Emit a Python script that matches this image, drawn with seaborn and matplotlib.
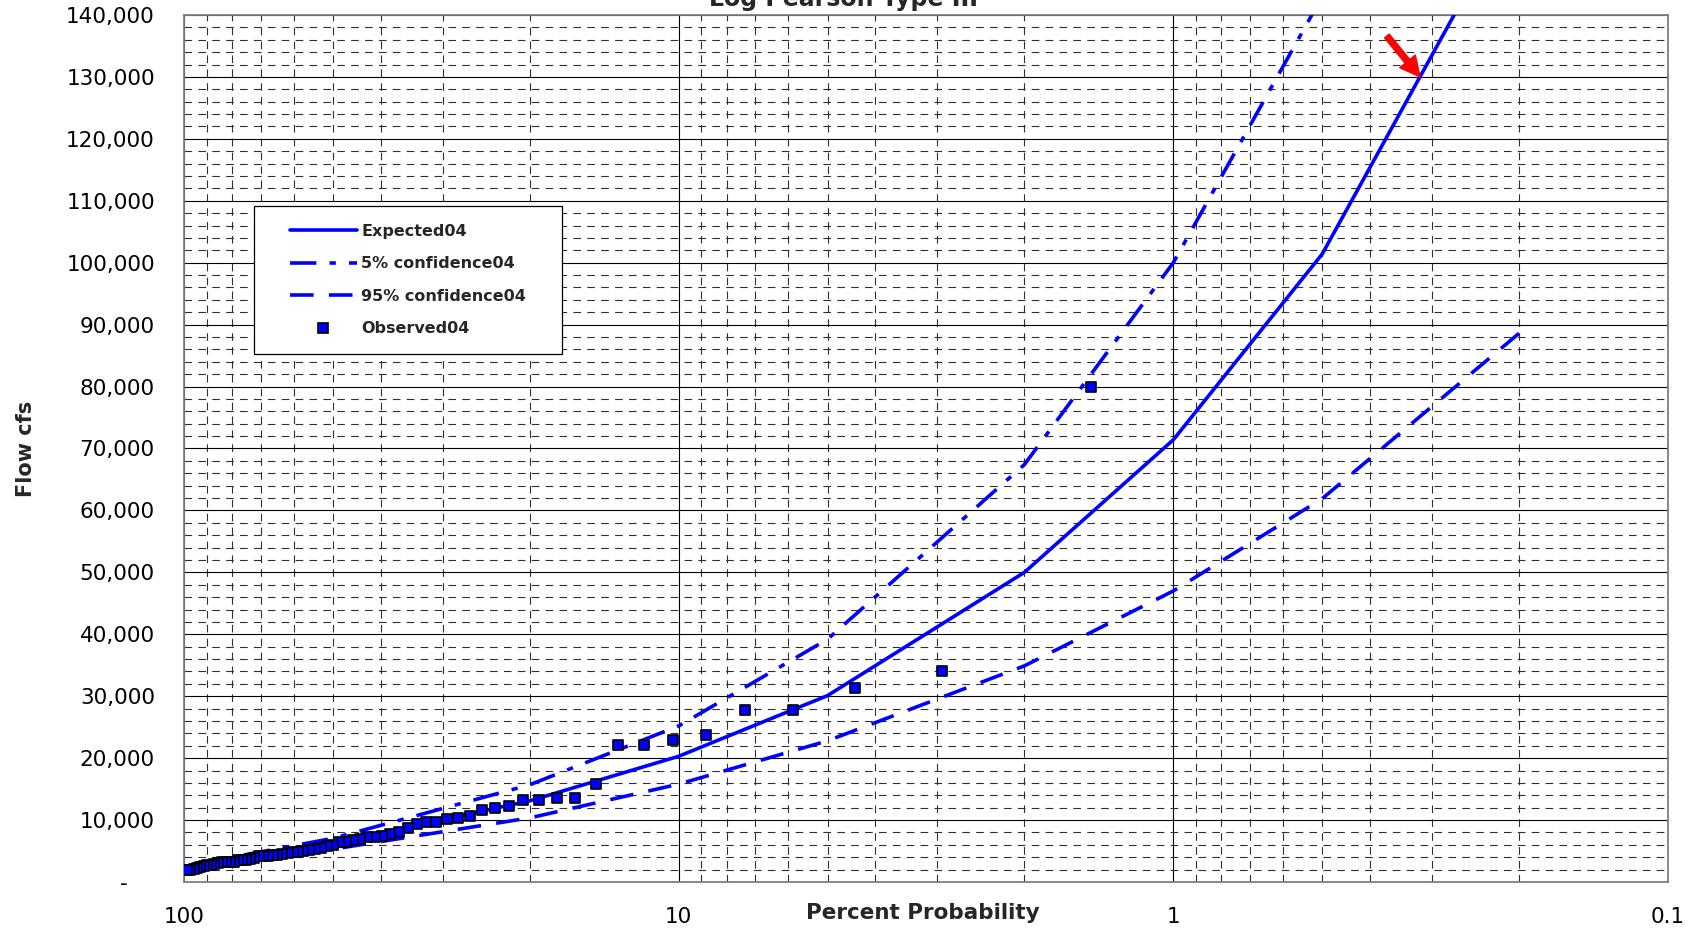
import seaborn as sns
import matplotlib.pyplot as plt
import matplotlib.ticker as mticker
from matplotlib.lines import Line2D
from matplotlib.patches import Rectangle

# frequency curve ordinates, percent chance of exceedance
curve_prob = [99, 95, 90, 80, 50, 20, 10, 5, 2, 1, 0.5, 0.2]
expected = [1700, 2250, 2650, 3400, 6300, 13100, 20300, 30100, 50000, 71400, 101400, 159000]
conf95 = [1350, 1900, 2250, 2900, 5300, 10350, 15800, 22800, 34900, 47000, 61900, 88600]
conf05_prob = [99, 95, 90, 80, 50, 20, 10, 5, 2, 1, 0.5]
conf05 = [2100, 2600, 3000, 4000, 7050, 15700, 25200, 39200, 67400, 100000, 143000]

# observed annual peaks (plotting position, flow)
obs_prob = [1.47, 2.94, 4.41, 5.88, 7.35, 8.82, 10.29, 11.76, 13.24, 14.71,
            16.18, 17.65, 19.12, 20.59, 22.06, 23.53, 25.00, 26.47, 27.94, 29.41,
            30.88, 32.35, 33.82, 35.29, 36.76, 38.24, 39.71, 41.18, 42.65, 44.12,
            45.59, 47.06, 48.53, 50.00, 51.47, 52.94, 54.41, 55.88, 57.35, 58.82,
            60.29, 61.76, 63.24, 64.71, 66.18, 67.65, 69.12, 70.59, 72.06, 73.53,
            75.00, 76.47, 77.94, 79.41, 80.88, 82.35, 83.82, 85.29, 86.76, 88.24,
            89.71, 91.18, 92.65, 94.12, 95.59, 97.06, 98.53]
obs_flow = [80000, 34100, 31300, 27800, 27800, 23800, 23000, 22200, 22200, 15800,
            13500, 13500, 13200, 13200, 12300, 12000, 11700, 10700, 10400, 10200,
            9700, 9700, 9400, 8700, 8100, 7700, 7400, 7300, 7200, 6900,
            6800, 6500, 6400, 6000, 5800, 5500, 5400, 5200, 5000, 4900,
            4800, 4700, 4600, 4400, 4300, 4200, 4200, 4200, 3800, 3700,
            3600, 3550, 3500, 3300, 3300, 3250, 3200, 3100, 2900, 2800,
            2700, 2550, 2400, 2200, 2100, 2000, 1900]

labels = ['Expected04', '5% confidence04', '95% confidence04', 'Observed04']

BLUE = '#0000FF'
LW = 2.6
DASHDOT = (0, (19, 9.5, 4.5, 9.5))
DASHED = (0, (17, 11))

sns.set_style("white")
plt.rcParams['font.family'] = 'DejaVu Sans'
plt.rcParams['lines.scale_dashes'] = False

fig = plt.figure(figsize=(17.02, 9.30), dpi=100)
ax = fig.add_axes([0.1081, 0.0516, 0.8719, 0.9323])
ax.set_xscale('log')

sns.lineplot(x=curve_prob, y=expected, ax=ax, color=BLUE, lw=LW, zorder=3)
sns.lineplot(x=conf05_prob, y=conf05, ax=ax, color=BLUE, lw=LW, linestyle=DASHDOT, zorder=3)
sns.lineplot(x=curve_prob, y=conf95, ax=ax, color=BLUE, lw=LW, linestyle=DASHED, zorder=3)
sns.scatterplot(x=obs_prob, y=obs_flow, ax=ax, marker='s', s=60, color=BLUE,
                edgecolor='black', linewidth=1.2, zorder=4)

ax.set_xlim(100, 0.1)
ax.set_ylim(0, 140000)

ax.xaxis.set_major_locator(mticker.FixedLocator([100, 10, 1, 0.1]))
ax.xaxis.set_major_formatter(mticker.FixedFormatter(['100', '10', '1', '0.1']))
ax.xaxis.set_minor_locator(mticker.LogLocator(base=10, subs=range(2, 10), numticks=20))
ax.xaxis.set_minor_formatter(mticker.NullFormatter())
ax.yaxis.set_major_locator(mticker.MultipleLocator(10000))
ax.yaxis.set_minor_locator(mticker.MultipleLocator(2000))
ax.yaxis.set_major_formatter(mticker.FuncFormatter(
    lambda v, _: '-\u2007\u2007' if v == 0 else f'{v:,.0f}'))

ax.set_axisbelow(True)
ax.grid(which='major', color='black', lw=0.8, ls='-')
ax.grid(which='minor', color='#303030', lw=0.8, ls=(0, (5.5, 4.5)))
ax.tick_params(which='both', length=0, labelsize=15.5, labelcolor='black')
ax.tick_params(axis='y', pad=21)
ax.tick_params(axis='x', pad=18)
for s in ax.spines.values():
    s.set_color('#808080')
    s.set_linewidth(1.3)

ax.set_xlabel('Percent Probability', fontsize=15.5, fontweight='bold')
ax.xaxis.set_label_coords(0.498, -0.024)
ax.set_ylabel('Flow cfs', fontsize=15, fontweight='bold')
ax.yaxis.set_label_coords(-0.1, 0.5)

# chart title, partly cut by the top edge as in the original
fig.text(0.4953, 1 - 6 / 930, 'Log Pearson Type III', ha='center', va='baseline',
         fontsize=17, fontweight='bold')

# legend box
ax.add_patch(Rectangle((0.0472, 0.609), 0.2075, 0.1707, transform=ax.transAxes,
                       facecolor='white', edgecolor='black', lw=0.9, zorder=4.5))
handles = [
    Line2D([], [], color=BLUE, lw=LW),
    Line2D([], [], color=BLUE, lw=LW, ls=DASHDOT),
    Line2D([], [], color=BLUE, lw=LW, ls=DASHED),
    Line2D([], [], ls='none', marker='s', ms=7.5, mfc=BLUE, mec='black', mew=1.2),
]
leg = ax.legend(handles, labels, loc='center left', bbox_to_anchor=(0.0714, 0.6943),
                frameon=False, borderpad=0, borderaxespad=0, handlelength=4.2,
                handletextpad=0.25, labelspacing=1.1,
                prop={'size': 11.5, 'weight': 'bold'})
leg.set_zorder(5)

ax.annotate('', xy=(0.317, 130000), xytext=(0.370, 136600),
            arrowprops=dict(arrowstyle='simple,head_length=0.9,head_width=0.9,tail_width=0.27',
                            color='red', mutation_scale=16, shrinkA=0, shrinkB=0),
            zorder=6)

fig.savefig('out.png', dpi=100)
